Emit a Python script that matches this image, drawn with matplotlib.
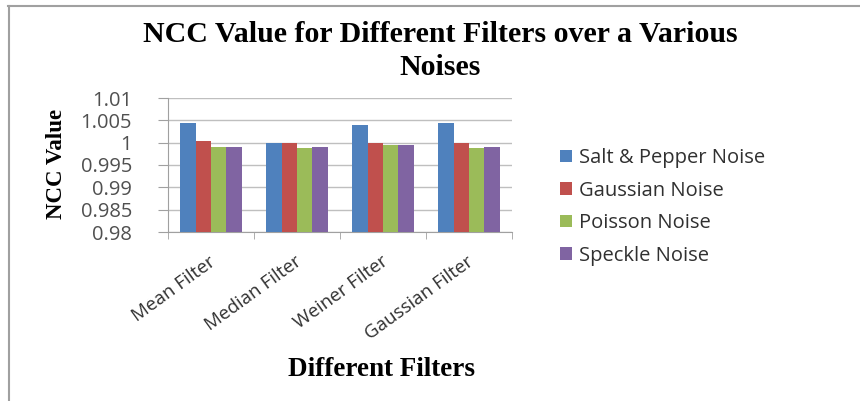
import matplotlib.pyplot as plt
import numpy as np
from matplotlib.lines import Line2D
from matplotlib.transforms import ScaledTranslation

# Дані
filters = ['Mean Filter', 'Median Filter', 'Weiner Filter', 'Gaussian Filter']
noises = ['Salt & Pepper Noise', 'Gaussian Noise', 'Poisson Noise', 'Speckle Noise']
salt_pepper = [1.0045, 1.0000, 1.0039, 1.0044]
gaussian = [1.0003, 1.0000, 1.0000, 1.0000]
poisson = [0.9990, 0.9988, 0.9994, 0.9989]
speckle = [0.9990, 0.9991, 0.9994, 0.9990]
y_ticks = [0.98, 0.985, 0.99, 0.995, 1.0, 1.005, 1.01]
y_tick_labels = ['0.98', '0.985', '0.99', '0.995', '1', '1.005', '1.01']

colors = ['#4F81BD', '#C0504D', '#9BBB59', '#8064A2']
series = [salt_pepper, gaussian, poisson, speckle]

serif = ['Liberation Serif', 'DejaVu Serif']
sans = ['Open Sans', 'DejaVu Sans']

fig = plt.figure(figsize=(8.6, 4.01), dpi=100)
ax = fig.add_axes([168 / 860, 1 - 232 / 401, 344 / 860, 134 / 401])

x = np.arange(len(filters))
w = 0.18
for i, (vals, c, name) in enumerate(zip(series, colors, noises)):
    ax.bar(x + (i - 1.5) * w, vals, width=w, color=c, label=name, zorder=3)

ax.set_xlim(-0.5, len(filters) - 0.5)
ax.set_ylim(0.98, 1.01)
ax.set_yticks(y_ticks)
ax.set_yticklabels(y_tick_labels, fontfamily=sans, fontsize=14.5, color='#505050')
ax.yaxis.grid(True, color='#BFBFBF', linewidth=1, zorder=0)
ax.tick_params(axis='y', length=7, color='#A0A0A0', pad=19)

# підписи категорій під кутом
ax.set_xticks(x)
ax.set_xticklabels(filters, rotation=36, ha='right', va='center', rotation_mode='anchor',
                   fontfamily=sans, fontsize=13.5, color='#303030')
ax.tick_params(axis='x', length=0, pad=20)
shift = ScaledTranslation(2 / 72, 0, fig.dpi_scale_trans)
for lab in ax.get_xticklabels():
    lab.set_transform(lab.get_transform() + shift)
ax.set_xticks(np.arange(-0.5, len(filters)), minor=True)
ax.tick_params(axis='x', which='minor', length=5, color='#A0A0A0')

for s in ['top', 'right']:
    ax.spines[s].set_visible(False)
for s in ['left', 'bottom']:
    ax.spines[s].set_color('#A0A0A0')

fig.text(0.512, 1 - 42 / 401, 'NCC Value for Different Filters over a Various',
         ha='center', va='baseline', fontfamily=serif, fontweight='bold', fontsize=21.5)
fig.text(0.512, 1 - 75 / 401, 'Noises',
         ha='center', va='baseline', fontfamily=serif, fontweight='bold', fontsize=21.5)
fig.text(56 / 860, 1 - 164 / 401, 'NCC Value', rotation=90, ha='center', va='center',
         fontfamily=serif, fontweight='bold', fontsize=16.5)
fig.text(381 / 860, 1 - 370 / 401, 'Different Filters', ha='center', va='center',
         fontfamily=serif, fontweight='bold', fontsize=19.5)

leg = ax.legend(loc='upper left', bbox_to_anchor=(542 / 860, 1 - 130 / 401),
                bbox_transform=fig.transFigure, frameon=False,
                prop={'family': sans, 'size': 14.5}, handlelength=0.6, handleheight=0.6,
                handletextpad=0.35, labelspacing=0.62)
for t in leg.get_texts():
    t.set_color('#303030')

# рамка навколо діаграми
fig.add_artist(Line2D([8 / 860, 1], [1 - 6 / 401, 1 - 6 / 401], color='#A0A0A0', lw=1.5))
fig.add_artist(Line2D([9 / 860, 9 / 860], [0, 1 - 6 / 401], color='#A0A0A0', lw=1.5))

fig.savefig('out.png', dpi=100)
